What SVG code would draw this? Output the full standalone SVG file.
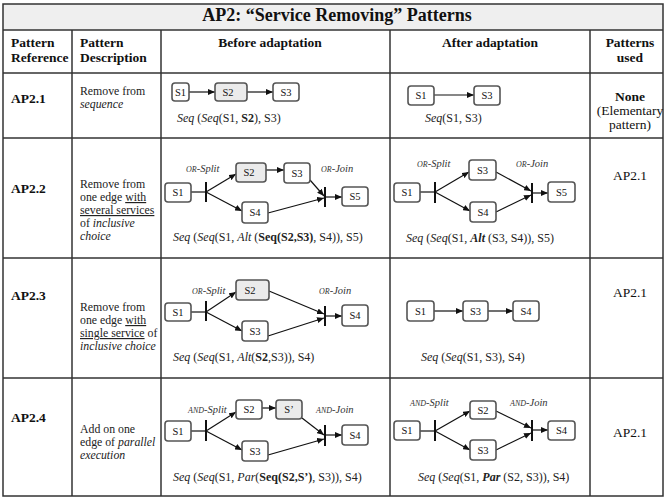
<svg xmlns="http://www.w3.org/2000/svg" width="664" height="499" viewBox="0 0 664 499" font-family="'Liberation Serif', serif">
<defs>
<marker id="arr" markerWidth="7" markerHeight="6" refX="7" refY="3" orient="auto" markerUnits="userSpaceOnUse"><path d="M0,0 L7,3 L0,6 z" fill="#111"/></marker>
<style>
text{font-family:'Liberation Serif',serif;fill:#111}
.grid{stroke:#333;stroke-width:1.5;fill:none}
.title{font-size:18px;font-weight:bold;text-anchor:middle}
.hd{font-size:13.5px;font-weight:bold}
.hdc{font-size:13.5px;font-weight:bold;text-anchor:middle}
.ref{font-size:13.5px;font-weight:bold}
.desc{font-size:11.8px;fill:#222}
.used{font-size:13.5px;text-anchor:middle}
.node rect{fill:#fff;stroke:#555;stroke-width:1.6}
.node.g rect{fill:#ebebeb}
.node text{font-size:10.5px;text-anchor:middle}
.f{font-size:12px;fill:#222}
.gw{font-size:10.5px;font-style:italic;fill:#333}
.sc{font-size:8px}
.e{stroke:#111;stroke-width:1.2;fill:none;marker-end:url(#arr)}
.l{stroke:#111;stroke-width:1.2;fill:none}
.bar{stroke:#111;stroke-width:2}
</style>
</defs>
<rect x="3" y="4" width="660" height="26" fill="#efefef"/>
<g id="grid" class="grid">
<rect x="3" y="4" width="660" height="492"/>
<line x1="3" y1="30" x2="663" y2="30"/>
<line x1="3" y1="73" x2="663" y2="73"/>
<line x1="3" y1="138" x2="663" y2="138"/>
<line x1="3" y1="258" x2="663" y2="258"/>
<line x1="3" y1="378" x2="663" y2="378"/>
<line x1="72" y1="30" x2="72" y2="496"/>
<line x1="161" y1="30" x2="161" y2="496"/>
<line x1="390" y1="30" x2="390" y2="496"/>
<line x1="590" y1="30" x2="590" y2="496"/>
</g>
<text class="title" x="337" y="21">AP2: “Service Removing” Patterns</text>
<g id="headers">
<text class="hd" x="11" y="47">Pattern</text>
<text class="hd" x="11" y="62">Reference</text>
<text class="hd" x="80" y="47">Pattern</text>
<text class="hd" x="80" y="62">Description</text>
<text class="hdc" x="270" y="47">Before adaptation</text>
<text class="hdc" x="490" y="47">After adaptation</text>
<text class="hdc" x="630" y="47">Patterns</text>
<text class="hdc" x="630" y="62">used</text>
</g>
<g id="refs">
<text class="ref" x="11" y="103">AP2.1</text>
<text class="ref" x="11" y="193">AP2.2</text>
<text class="ref" x="11" y="300">AP2.3</text>
<text class="ref" x="11" y="422">AP2.4</text>
</g>
<g id="descriptions">
<text class="desc" x="80" y="95">Remove from</text>
<text class="desc" x="80" y="108" font-style="italic">sequence</text>
<text class="desc" x="80" y="188">Remove from</text>
<text class="desc" x="80" y="201">one edge <tspan text-decoration="underline">with</tspan></text>
<text class="desc" x="80" y="214" text-decoration="underline">several services</text>
<text class="desc" x="80" y="227">of  <tspan font-style="italic">inclusive</tspan></text>
<text class="desc" x="80" y="240" font-style="italic">choice</text>
<text class="desc" x="80" y="311">Remove from</text>
<text class="desc" x="80" y="324">one edge <tspan text-decoration="underline">with</tspan></text>
<text class="desc" x="80" y="337"><tspan text-decoration="underline">single service</tspan> of</text>
<text class="desc" x="80" y="350" font-style="italic">inclusive choice</text>
<text class="desc" x="80" y="433">Add on one</text>
<text class="desc" x="80" y="446">edge of  <tspan font-style="italic">parallel</tspan></text>
<text class="desc" x="80" y="459" font-style="italic">execution</text>
</g>
<g id="used">
<text class="used" x="630" y="101" font-weight="bold">None</text>
<text class="used" x="630" y="115">(Elementary</text>
<text class="used" x="630" y="129">pattern)</text>
<text class="used" x="630" y="180">AP2.1</text>
<text class="used" x="630" y="297">AP2.1</text>
<text class="used" x="630" y="437">AP2.1</text>
</g>
<g id="formulas">
<text class="f" x="177" y="122"><tspan font-style="italic">Seq</tspan> (<tspan font-style="italic">Seq</tspan>(S1, <tspan font-weight="bold">S2</tspan>), S3)</text>
<text class="f" x="425" y="122"><tspan font-style="italic">Seq</tspan>(S1, S3)</text>
<text class="f" x="173" y="241"><tspan font-style="italic">Seq</tspan> (<tspan font-style="italic">Seq</tspan>(S1, <tspan font-style="italic">Alt</tspan> (<tspan font-weight="bold">Seq(S2,S3)</tspan>, S4)), S5)</text>
<text class="f" x="406" y="242"><tspan font-style="italic">Seq</tspan> (<tspan font-style="italic">Seq</tspan>(S1, <tspan font-style="italic" font-weight="bold">Alt</tspan> (S3, S4)), S5)</text>
<text class="f" x="173" y="361"><tspan font-style="italic">Seq</tspan> (<tspan font-style="italic">Seq</tspan>(S1, <tspan font-style="italic">Alt</tspan>(<tspan font-weight="bold">S2</tspan>,S3)), S4)</text>
<text class="f" x="421" y="361"><tspan font-style="italic">Seq</tspan> (<tspan font-style="italic">Seq</tspan>(S1, S3), S4)</text>
<text class="f" x="173" y="481"><tspan font-style="italic">Seq</tspan> (<tspan font-style="italic">Seq</tspan>(S1, <tspan font-style="italic">Par</tspan>(<tspan font-weight="bold">Seq(S2,S’)</tspan>, S3)), S4)</text>
<text class="f" x="418" y="481"><tspan font-style="italic">Seq</tspan> (<tspan font-style="italic">Seq</tspan>(S1, <tspan font-style="italic" font-weight="bold">Par</tspan> (S2, S3)), S4)</text>
</g>
<g id="gateway-labels">
<text class="gw" x="186" y="172"><tspan class="sc">OR</tspan>-Split</text>
<text class="gw" x="321" y="172"><tspan class="sc">OR</tspan>-Join</text>
<text class="gw" x="417" y="167"><tspan class="sc">OR</tspan>-Split</text>
<text class="gw" x="516" y="167"><tspan class="sc">OR</tspan>-Join</text>
<text class="gw" x="192" y="294"><tspan class="sc">OR</tspan>-Split</text>
<text class="gw" x="319" y="294"><tspan class="sc">OR</tspan>-Join</text>
<text class="gw" x="188" y="413"><tspan class="sc">AND</tspan>-Split</text>
<text class="gw" x="316" y="413"><tspan class="sc">AND</tspan>-Join</text>
<text class="gw" x="410" y="406"><tspan class="sc">AND</tspan>-Split</text>
<text class="gw" x="510" y="406"><tspan class="sc">AND</tspan>-Join</text>
</g>
<g id="connectors">
<line class="e" x1="189" y1="92" x2="215" y2="92"/>
<line class="e" x1="247" y1="92" x2="273" y2="92"/>
<line class="e" x1="434" y1="95" x2="474" y2="95"/>
<line class="l" x1="191" y1="192" x2="206" y2="192"/>
<line class="bar" x1="206" y1="182" x2="206" y2="202"/>
<line class="e" x1="206" y1="192" x2="236" y2="174"/>
<line class="e" x1="206" y1="192" x2="242" y2="211"/>
<line class="e" x1="266" y1="170" x2="284" y2="170"/>
<line class="e" x1="310" y1="180" x2="324" y2="196"/>
<line class="e" x1="268" y1="213" x2="324" y2="198"/>
<line class="bar" x1="325" y1="187" x2="325" y2="207"/>
<line class="e" x1="325" y1="197" x2="342" y2="197"/>
<line class="l" x1="420" y1="192" x2="435" y2="192"/>
<line class="bar" x1="435" y1="182" x2="435" y2="203"/>
<line class="e" x1="435" y1="192" x2="469" y2="172"/>
<line class="e" x1="435" y1="192" x2="470" y2="211"/>
<line class="e" x1="496" y1="172" x2="531" y2="191"/>
<line class="e" x1="496" y1="212" x2="531" y2="195"/>
<line class="bar" x1="532" y1="183" x2="532" y2="203"/>
<line class="e" x1="532" y1="193" x2="548" y2="193"/>
<line class="l" x1="191" y1="312" x2="206" y2="312"/>
<line class="bar" x1="206" y1="301" x2="206" y2="321"/>
<line class="e" x1="206" y1="312" x2="236" y2="292"/>
<line class="e" x1="206" y1="312" x2="242" y2="331"/>
<line class="e" x1="269" y1="291" x2="324" y2="314"/>
<line class="e" x1="268" y1="336" x2="324" y2="318"/>
<line class="bar" x1="325" y1="306" x2="325" y2="326"/>
<line class="e" x1="325" y1="316" x2="342" y2="316"/>
<line class="e" x1="434" y1="311" x2="463" y2="311"/>
<line class="e" x1="488" y1="311" x2="513" y2="311"/>
<line class="l" x1="191" y1="431" x2="206" y2="431"/>
<line class="bar" x1="206" y1="420" x2="206" y2="441"/>
<line class="e" x1="206" y1="431" x2="236" y2="412"/>
<line class="e" x1="206" y1="431" x2="242" y2="450"/>
<line class="e" x1="262" y1="408" x2="276" y2="408"/>
<line class="e" x1="302" y1="418" x2="324" y2="435"/>
<line class="e" x1="268" y1="455" x2="324" y2="439"/>
<line class="bar" x1="325" y1="425" x2="325" y2="446"/>
<line class="e" x1="325" y1="435" x2="342" y2="435"/>
<line class="l" x1="420" y1="431" x2="435" y2="431"/>
<line class="bar" x1="435" y1="420" x2="435" y2="441"/>
<line class="e" x1="435" y1="431" x2="470" y2="411"/>
<line class="e" x1="435" y1="431" x2="470" y2="450"/>
<line class="e" x1="496" y1="411" x2="531" y2="428"/>
<line class="e" x1="496" y1="450" x2="531" y2="433"/>
<line class="bar" x1="532" y1="420" x2="532" y2="441"/>
<line class="e" x1="532" y1="430" x2="548" y2="430"/>
</g>
<g id="r1b-S1" class="node"><rect x="172" y="83" width="17" height="18" rx="3"/><text x="180.5" y="95.5">S1</text></g>
<g id="r1b-S2" class="node g"><rect x="215" y="83" width="32" height="18" rx="3"/><text x="228" y="95.5">S2</text></g>
<g id="r1b-S3" class="node"><rect x="273" y="83" width="26" height="18" rx="3"/><text x="286" y="95.5">S3</text></g>
<g id="r1a-S1" class="node"><rect x="408" y="86" width="26" height="19" rx="3"/><text x="421" y="99">S1</text></g>
<g id="r1a-S3" class="node"><rect x="474" y="86" width="26" height="19" rx="3"/><text x="487" y="99">S3</text></g>
<g id="r2b-S1" class="node"><rect x="165" y="183" width="26" height="19" rx="3"/><text x="178" y="196">S1</text></g>
<g id="r2b-S2" class="node g"><rect x="236" y="163" width="30" height="19" rx="3"/><text x="249" y="176">S2</text></g>
<g id="r2b-S3" class="node"><rect x="284" y="163" width="26" height="20" rx="3"/><text x="297" y="176.5">S3</text></g>
<g id="r2b-S4" class="node"><rect x="242" y="202" width="26" height="21" rx="3"/><text x="255" y="216">S4</text></g>
<g id="r2b-S5" class="node"><rect x="342" y="187" width="26" height="19" rx="3"/><text x="355" y="200">S5</text></g>
<g id="r2a-S1" class="node"><rect x="394" y="183" width="26" height="19" rx="3"/><text x="407" y="196">S1</text></g>
<g id="r2a-S3" class="node"><rect x="469" y="160" width="27" height="20" rx="3"/><text x="482.5" y="173.5">S3</text></g>
<g id="r2a-S4" class="node"><rect x="470" y="202" width="26" height="20" rx="3"/><text x="483" y="215.5">S4</text></g>
<g id="r2a-S5" class="node"><rect x="548" y="182" width="27" height="20" rx="3"/><text x="561.5" y="195.5">S5</text></g>
<g id="r3b-S1" class="node"><rect x="165" y="303" width="26" height="18" rx="3"/><text x="178" y="315.5">S1</text></g>
<g id="r3b-S2" class="node g"><rect x="236" y="280" width="33" height="20" rx="3"/><text x="250" y="293.5">S2</text></g>
<g id="r3b-S3" class="node"><rect x="242" y="321" width="26" height="20" rx="3"/><text x="255" y="334.5">S3</text></g>
<g id="r3b-S4" class="node"><rect x="342" y="305" width="26" height="21" rx="3"/><text x="355" y="319">S4</text></g>
<g id="r3a-S1" class="node"><rect x="407" y="301" width="27" height="20" rx="3"/><text x="420.5" y="314.5">S1</text></g>
<g id="r3a-S3" class="node"><rect x="463" y="301" width="25" height="20" rx="3"/><text x="475.5" y="314.5">S3</text></g>
<g id="r3a-S4" class="node"><rect x="513" y="301" width="26" height="20" rx="3"/><text x="526" y="314.5">S4</text></g>
<g id="r4b-S1" class="node"><rect x="165" y="421" width="26" height="20" rx="3"/><text x="178" y="434.5">S1</text></g>
<g id="r4b-S2" class="node"><rect x="236" y="400" width="26" height="19" rx="3"/><text x="249" y="413">S2</text></g>
<g id="r4b-Sp" class="node g"><rect x="276" y="400" width="26" height="19" rx="3"/><text x="289" y="413">S’</text></g>
<g id="r4b-S3" class="node"><rect x="242" y="441" width="26" height="20" rx="3"/><text x="255" y="454.5">S3</text></g>
<g id="r4b-S4" class="node"><rect x="342" y="425" width="26" height="20" rx="3"/><text x="355" y="438.5">S4</text></g>
<g id="r4a-S1" class="node"><rect x="394" y="421" width="26" height="19" rx="3"/><text x="407" y="434">S1</text></g>
<g id="r4a-S2" class="node"><rect x="470" y="401" width="26" height="18" rx="3"/><text x="483" y="413.5">S2</text></g>
<g id="r4a-S3" class="node"><rect x="470" y="440" width="26" height="20" rx="3"/><text x="483" y="453.5">S3</text></g>
<g id="r4a-S4" class="node"><rect x="548" y="421" width="27" height="19" rx="3"/><text x="561.5" y="434">S4</text></g>
</svg>
